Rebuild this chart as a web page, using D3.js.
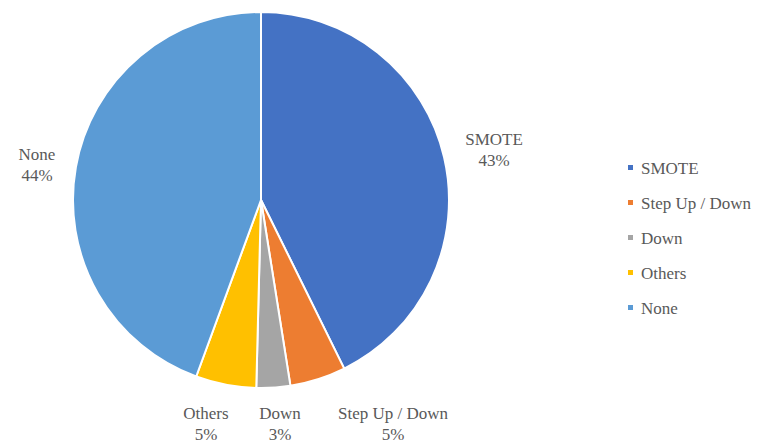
<!DOCTYPE html>
<html>
<head>
<meta charset="utf-8">
<style>
  body { margin: 0; background: #fff; }
</style>
</head>
<body>
<div id="chart"></div>
<script src="https://d3js.org/d3.v7.min.js"></script>
<script>

// data (shares)
var categories = ["SMOTE", "Step Up / Down", "Down", "Others", "None"];
var values = [42.7, 4.8, 2.9, 5.2, 44.4];
var colors = ["#4472C4", "#ED7D31", "#A5A5A5", "#FFC000", "#5B9BD5"];

// where the data labels sit (Excel best-fit style)
var labelPos = [[494, 139], [393, 413], [280, 413], [206, 413], [37, 154]];

var width = 769, height = 444;
var cx = 261, cy = 200, radius = 188;
var serif = "'Liberation Serif', 'DejaVu Serif', 'Times New Roman', serif";

var svg = d3.select("#chart").append("svg")
    .attr("width", width)
    .attr("height", height)
    .attr("font-family", serif);

var data = categories.map(function(c, i) { return {name: c, value: values[i], color: colors[i], pos: labelPos[i]}; });

var pie = d3.pie().sort(null).value(function(d) { return d.value; });
var arc = d3.arc().innerRadius(0).outerRadius(radius);

var g = svg.append("g")
    .attr("transform", "translate(" + cx + "," + cy + ")");

g.selectAll("path")
    .data(pie(data))
  .enter().append("path")
    .attr("d", arc)
    .attr("fill", function(d) { return d.data.color; })
    .attr("stroke", "#fff")
    .attr("stroke-width", 2)
    .attr("stroke-linejoin", "round");

// data labels
var total = d3.sum(values);
var lbl = svg.selectAll(".lbl")
    .data(data)
  .enter().append("text")
    .attr("class", "lbl")
    .attr("text-anchor", "middle")
    .attr("fill", "#595959")
    .attr("font-family", serif)
    .attr("font-size", 17);

lbl.append("tspan")
    .attr("x", function(d) { return d.pos[0]; })
    .attr("y", function(d) { return d.pos[1] + 6; })
    .text(function(d) { return d.name; });
lbl.append("tspan")
    .attr("x", function(d) { return d.pos[0]; })
    .attr("y", function(d) { return d.pos[1] + 27; })
    .text(function(d) { return Math.round(d.value / total * 100) + "%"; });

// legend
var ly = d3.scalePoint().domain(categories).range([168, 308]);

var leg = svg.selectAll(".leg")
    .data(data)
  .enter().append("g")
    .attr("class", "leg")
    .attr("transform", function(d) { return "translate(628," + ly(d.name) + ")"; });

leg.append("rect")
    .attr("x", 0)
    .attr("y", -3)
    .attr("width", 5)
    .attr("height", 5)
    .attr("fill", function(d) { return d.color; });

leg.append("text")
    .attr("x", 13)
    .attr("y", 6)
    .attr("fill", "#595959")
    .attr("font-family", serif)
    .attr("font-size", 17)
    .text(function(d) { return d.name; });

</script>
</body>
</html>
